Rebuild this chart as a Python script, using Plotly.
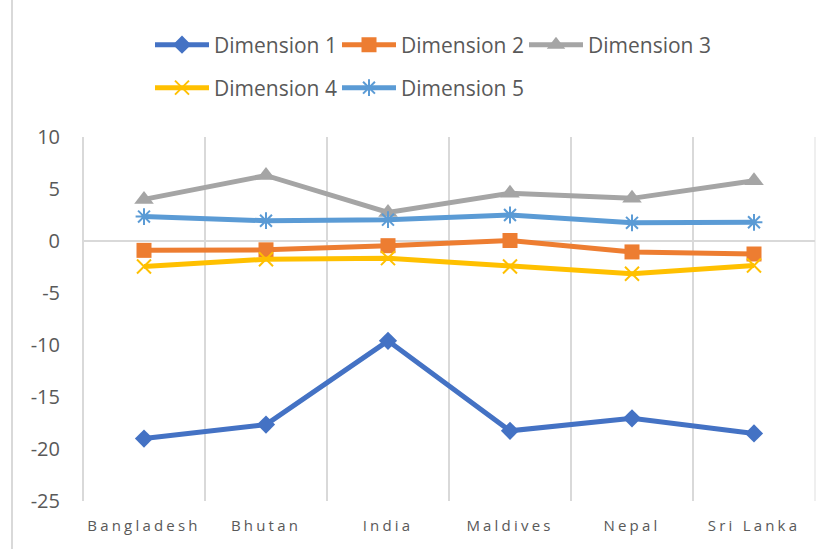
import plotly.graph_objects as go

categories = ["Bangladesh", "Bhutan", "India", "Maldives", "Nepal", "Sri Lanka"]
dimension_1 = [-19.0, -17.65, -9.6, -18.25, -17.05, -18.5]
dimension_2 = [-0.9, -0.85, -0.45, 0.05, -1.05, -1.25]
dimension_3 = [4.0, 6.3, 2.75, 4.6, 4.1, 5.8]
dimension_4 = [-2.45, -1.75, -1.65, -2.45, -3.15, -2.35]
dimension_5 = [2.35, 1.95, 2.05, 2.5, 1.75, 1.8]
y_ticks = [-25, -20, -15, -10, -5, 0, 5, 10]
y_tick_labels = ["-25", "-20", "-15", "-10", "-5", "0", "5", "10"]

L, R, T, B = 83, 17, 137, 48
W, H = 832, 549
pw, ph = W - L - R, H - T - B


def px_x(p):
    return (p - L) / pw


def px_y(p):
    return (H - B - p) / ph


series = [
    ("Dimension 1", dimension_1, "#4472C4", dict(symbol="diamond", size=14), "legend"),
    ("Dimension 2", dimension_2, "#ED7D31", dict(symbol="square", size=15), "legend"),
    ("Dimension 3", dimension_3, "#A5A5A5", dict(symbol="triangle-up", size=17), "legend"),
    ("Dimension 4", dimension_4, "#FFC000", dict(symbol="x-thin-open", size=14, line=dict(width=2, color="#FFC000")), "legend2"),
    ("Dimension 5", dimension_5, "#5B9BD5", dict(symbol="asterisk-open", size=14, line=dict(width=2, color="#5B9BD5")), "legend2"),
]

fig = go.Figure()
for name, vals, color, marker, leg in series:
    m = dict(color=color)
    m.update(marker)
    fig.add_trace(go.Scatter(
        x=categories, y=vals, name=name, mode="lines+markers",
        line=dict(color=color, width=5), marker=m, legend=leg,
    ))

tick_text = ['<span style="letter-spacing:3.2px">%s</span>' % c for c in categories]

font_family = "Open Sans, Noto Sans, sans-serif"
legend_common = dict(
    orientation="h", xanchor="left", yanchor="middle",
    font=dict(size=21, color="#595959"), itemwidth=54, entrywidth=118,
    entrywidthmode="pixels", bgcolor="rgba(0,0,0,0)", tracegroupgap=0,
)
fig.update_layout(
    width=W, height=H,
    margin=dict(l=L, r=R, t=T, b=B, pad=0),
    plot_bgcolor="white", paper_bgcolor="white",
    font=dict(family=font_family, color="#595959"),
    xaxis=dict(
        type="category", categoryorder="array", categoryarray=categories,
        range=[-0.5, 5.5], tickson="boundaries", showgrid=True,
        gridcolor="#d9d9d9", gridwidth=2, ticks="", showline=False,
        tickmode="array", tickvals=categories, ticktext=tick_text,
        tickfont=dict(size=15, color="#595959"), ticklabelstandoff=14,
        zeroline=False,
    ),
    yaxis=dict(
        range=[-25, 10], tickmode="array", tickvals=y_ticks, ticktext=y_tick_labels,
        showgrid=False,
        zeroline=True, zerolinecolor="#d9d9d9", zerolinewidth=2,
        tickfont=dict(size=20, color="#595959"), ticks="", showline=False,
        ticklabelstandoff=22,
    ),
    legend=dict(x=px_x(150), y=px_y(45), **legend_common),
    legend2=dict(x=px_x(150), y=px_y(88), **legend_common),
    shapes=[
        dict(type="line", xref="paper", yref="paper",
             x0=px_x(12), x1=px_x(12), y0=px_y(0), y1=px_y(H),
             line=dict(color="#d9d9d9", width=2), layer="below"),
        dict(type="line", xref="paper", yref="paper",
             x0=0, x1=0, y0=0, y1=1,
             line=dict(color="#d9d9d9", width=2), layer="below"),
        dict(type="line", xref="paper", yref="paper",
             x0=1, x1=1, y0=0, y1=1,
             line=dict(color="#efefef", width=2), layer="below"),
    ],
    showlegend=True,
)

fig.write_html("out.html")
